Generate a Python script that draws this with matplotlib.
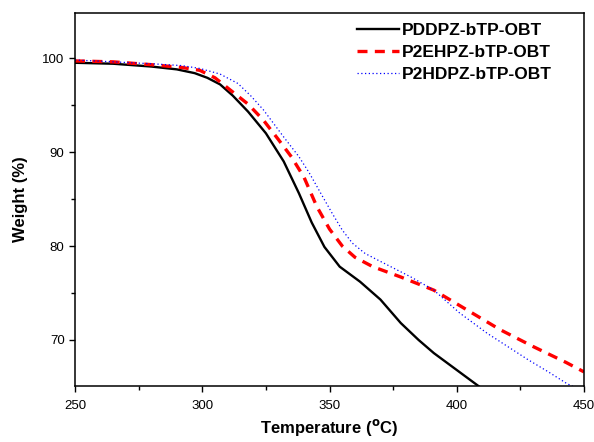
import matplotlib
matplotlib.use('Agg')
import matplotlib.pyplot as plt
from matplotlib.ticker import MultipleLocator

plt.rcParams['font.family'] = ['Liberation Sans', 'DejaVu Sans']

# PDDPZ-bTP-OBT
t_pddpz = [250, 265, 280, 290, 297, 302, 307, 312, 318, 325, 332, 338, 343, 348, 354, 362, 370, 378, 385, 391, 396, 400, 405, 409]
w_pddpz = [99.5, 99.4, 99.1, 98.8, 98.4, 97.9, 97.2, 96.0, 94.3, 92.0, 89.0, 85.6, 82.5, 79.9, 77.8, 76.2, 74.3, 71.8, 70.0, 68.6, 67.6, 66.8, 65.8, 65.0]

# P2EHPZ-bTP-OBT
t_p2ehpz = [250, 265, 280, 292, 299, 305, 311, 318, 324, 330, 335, 340, 345, 350, 355, 360, 367, 378, 391, 404, 417, 430, 443, 450]
w_p2ehpz = [99.7, 99.6, 99.3, 99.0, 98.7, 97.9, 96.6, 95.1, 93.4, 91.3, 89.5, 87.3, 84.2, 81.8, 80.0, 78.8, 77.8, 76.7, 75.3, 73.2, 71.1, 69.3, 67.6, 66.6]

# P2HDPZ-bTP-OBT
t_p2hdpz = [250, 265, 280, 292, 299, 307, 314, 319, 324, 332, 338, 342, 347, 351, 355, 359, 364, 369, 382, 391, 401, 412, 420, 428, 436, 443, 446]
w_p2hdpz = [99.8, 99.6, 99.4, 99.2, 98.9, 98.3, 97.3, 96.0, 94.5, 91.6, 89.5, 87.8, 85.4, 83.5, 81.7, 80.3, 79.2, 78.5, 76.7, 75.3, 72.9, 70.7, 69.3, 67.9, 66.6, 65.4, 65.0]

fig = plt.figure(figsize=(5.94, 4.42), dpi=100)
ax = fig.add_axes([0.1263, 0.1267, 0.8569, 0.8439])

ax.plot(t_pddpz, w_pddpz, color='black', lw=1.7, ls='-', label='PDDPZ-bTP-OBT')
ax.plot(t_p2ehpz, w_p2ehpz, color='red', lw=2.4, ls=(0, (3, 2.2)), label='P2EHPZ-bTP-OBT')
ax.plot(t_p2hdpz, w_p2hdpz, color='blue', lw=0.9, ls=(0, (1, 2)), label='P2HDPZ-bTP-OBT')

ax.set_xlim(250, 450)
ax.set_ylim(65.1, 104.8)
ax.xaxis.set_major_locator(MultipleLocator(50))
ax.xaxis.set_minor_locator(MultipleLocator(25))
ax.yaxis.set_major_locator(MultipleLocator(10))
ax.yaxis.set_minor_locator(MultipleLocator(5))
ax.tick_params(which='both', direction='out', labelsize=9.5, top=False, right=False)
ax.tick_params(axis='x', pad=6)
ax.tick_params(which='major', length=4, width=1)
ax.tick_params(which='minor', length=3, width=1)
for s in ax.spines.values():
    s.set_linewidth(1.1)

ax.set_xlabel(r'Temperature ($\mathbf{^o}$C)', fontsize=12, fontweight='bold', labelpad=4)
ax.set_ylabel('Weight (%)', fontsize=12, fontweight='bold', labelpad=10)

leg = ax.legend(loc='upper right', bbox_to_anchor=(0.955, 1.0), frameon=False,
                handlelength=2.4, handletextpad=0.15, labelspacing=0.4, borderaxespad=0.15,
                prop={'weight': 'bold', 'size': 12.5})

fig.savefig('out.png', dpi=100)
